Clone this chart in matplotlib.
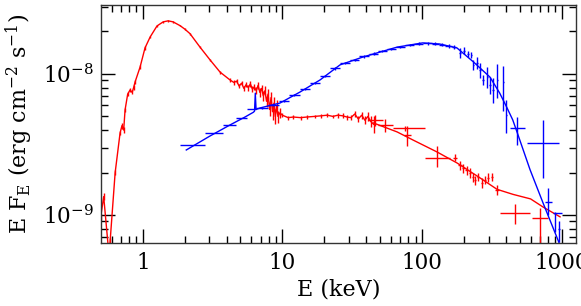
import matplotlib
matplotlib.use("Agg")
import matplotlib.pyplot as plt
from matplotlib.ticker import LogLocator, FuncFormatter, NullFormatter

plt.rcParams['font.family'] = ['DejaVu Serif']
plt.rcParams['mathtext.fontset'] = 'dejavuserif'

# red spectrum (data histogram), E in keV, E F_E in 1e-9 erg/cm2/s
red_E = [0.50, 0.525, 0.57, 0.578, 0.583, 0.634, 0.688, 0.71, 0.73, 0.747, 0.78, 0.811,
         0.84, 0.86, 0.881, 0.957, 1.038, 1.13, 1.265, 1.40, 1.52, 1.65, 1.85, 2.0, 2.18,
         2.57, 3.03, 3.58, 4.22, 4.5, 4.7, 4.9, 5.1, 5.3, 5.5, 5.7, 5.9, 6.1, 6.3, 6.5,
         6.7, 6.9, 7.1, 7.3, 7.5, 7.7, 7.9, 8.1, 8.3, 8.5, 8.7, 8.9, 9.1, 9.3, 9.6,
         10.0, 11.0, 12.0, 13.5, 15.0, 17.0, 19.0, 21.0, 23.0, 25.0, 27.0, 29.0, 31.0,
         33.0, 35.0, 37.0, 39.0, 41.0, 43.0, 45.0]
red_F = [0.97, 1.35, 0.55, 0.55, 0.64, 1.99, 3.82, 4.3, 4.0, 5.56, 7.2, 7.7,
         7.4, 8.0, 8.77, 11.2, 15.3, 18.3, 21.9, 23.4, 23.8, 23.4, 22.0, 20.8, 19.3,
         15.5, 12.6, 10.3, 9.06, 8.7, 8.9, 8.2, 8.6, 7.9, 8.4, 8.0, 8.5, 7.8, 8.1, 7.6,
         8.3, 7.4, 7.9, 7.0, 7.6, 6.4, 7.2, 5.6, 6.8, 5.4, 6.2, 5.0, 5.9, 5.0, 5.3,
         5.1, 4.9, 4.95, 4.9, 4.95, 5.0, 5.05, 5.1, 5.0, 5.1, 5.05, 4.95, 4.9,
         5.2, 4.8, 5.1, 4.7, 5.0, 4.6, 4.4]
red_err = [0.05, 0.08, 0.05, 0.05, 0.05, 0.08, 0.15, 0.2, 0.2, 0.2, 0.25, 0.25,
           0.25, 0.3, 0.3, 0.35, 0.4, 0.4, 0.4, 0.3, 0.3, 0.3, 0.3, 0.3, 0.3,
           0.3, 0.25, 0.25, 0.25, 0.3, 0.3, 0.3, 0.3, 0.35, 0.35, 0.4, 0.4, 0.4, 0.45, 0.45,
           0.5, 0.5, 0.5, 0.55, 0.55, 0.6, 0.6, 0.6, 0.7, 0.7, 0.7, 0.6, 0.6, 0.5, 0.4,
           0.15, 0.15, 0.15, 0.15, 0.15, 0.15, 0.15, 0.15, 0.15, 0.2, 0.2, 0.2, 0.2,
           0.25, 0.25, 0.3, 0.3, 0.35, 0.4, 0.6]

# red hard x-ray points
redx_E = [46.1, 54.4, 75.7, 78.2, 128, 173, 187, 197, 210, 221, 232, 240, 252, 269,
          283, 297, 318, 345, 464, 705]
redx_lo = [41.1, 48.5, 62.1, 74.0, 105, 168, 182, 192, 205, 216, 227, 235, 247, 263,
           277, 291, 311, 336, 364, 615]
redx_hi = [52.6, 62.1, 105, 83.0, 159, 178, 192, 202, 215, 226, 237, 245, 257, 275,
           289, 303, 325, 354, 595, 801]
redx_F = [4.72, 4.35, 4.14, 3.69, 2.54, 2.54, 2.26, 2.15, 2.08, 1.99, 1.86, 1.77, 1.86,
          1.69, 1.77, 1.83, 1.86, 1.50, 1.03, 0.953]
redx_dn = [4.3, 3.9, 3.95, 3.1, 2.18, 2.4, 2.1, 2.0, 1.93, 1.84, 1.72, 1.64, 1.74,
           1.56, 1.65, 1.70, 1.74, 1.38, 0.86, 0.3]
redx_up = [5.1, 4.8, 4.3, 4.3, 3.07, 2.7, 2.42, 2.3, 2.23, 2.14, 2.0, 1.9, 2.0,
           1.82, 1.9, 1.98, 2.0, 1.63, 1.20, 1.12]

# red model at high energies
redm_E = [45.0, 66.4, 86.3, 128, 178, 261, 345, 449, 600, 736, 975]
redm_F = [4.49, 3.88, 3.40, 2.80, 2.34, 1.83, 1.52, 1.40, 1.30, 1.14, 0.97]

# blue model
blue_E = [2.05, 3.03, 4.22, 5.4, 6.2, 6.32, 6.4, 6.48, 6.92, 9.62, 13.4, 18.6, 25.9,
          37.9, 66.4, 101, 134, 178, 233, 307, 360, 404, 447, 482, 594, 736, 942, 1200]
blue_F = [2.89, 3.63, 4.35, 4.95, 5.35, 5.45, 7.3, 5.6, 5.74, 6.22, 7.45, 9.06, 11.6,
          13.2, 15.5, 16.6, 16.3, 15.3, 12.2, 9.5, 7.33, 5.83, 4.72, 3.82, 2.1, 1.22,
          0.665, 0.36]

# blue data
blued_E = [2.26, 3.24, 4.19, 5.1, 6.02, 7.2, 8.6, 10.3, 12.2, 14.5, 17.2, 20.3, 24.0,
           28.0, 33.0, 38.5, 45.0, 52.0, 60.0, 70.0, 82.0, 95.0, 110, 125, 140, 155,
           170, 188, 200, 214, 226, 233, 248, 261, 274, 293, 307, 323, 345, 382, 401,
           482, 736, 800, 897, 960]
blued_lo = [1.85, 2.79, 3.76, 4.66, 5.59, 6.48, 7.9, 9.5, 11.2, 13.3, 15.8, 18.6, 22.0,
            26.0, 30.5, 35.5, 41.5, 48.5, 56.0, 65.0, 76.0, 88.0, 102, 118, 132, 147,
            165, 185, 197, 211, 223, 231, 245, 258, 271, 290, 304, 320, 342, 378, 398,
            429, 565, 762, 866, 950]
blued_hi = [2.79, 3.76, 4.66, 5.59, 6.48, 7.9, 9.5, 11.2, 13.3, 15.8, 18.6, 22.0, 26.0,
            30.5, 35.5, 41.5, 48.5, 56.0, 65.0, 76.0, 88.0, 102, 118, 132, 147, 165,
            175, 191, 203, 217, 229, 235, 251, 264, 277, 296, 310, 326, 348, 386, 404,
            548, 960, 855, 1002, 970]
blued_F = [3.13, 3.82, 4.35, 4.87, 5.65, 5.74, 6.0, 6.46, 7.08, 7.8, 8.65, 9.67, 10.96,
           11.9, 12.6, 13.3, 13.9, 14.5, 15.1, 15.6, 16.05, 16.4, 16.5, 16.4, 16.1, 15.8,
           15.5, 14.1, 14.6, 13.9, 13.6, 11.6, 12.0, 10.7, 9.06, 9.5, 8.36, 7.7, 9.06,
           8.77, 5.12, 4.14, 3.24, 1.24, 1.03, 0.80]
blued_dn = [3.13, 3.82, 4.35, 4.87, 5.65, 5.64, 5.9, 6.36, 6.95, 7.65, 8.5, 9.5, 10.75,
            11.7, 12.4, 13.0, 13.6, 14.2, 14.8, 15.3, 15.75, 16.0, 16.1, 16.0, 15.7, 15.3,
            15.0, 13.0, 13.8, 13.2, 12.9, 10.6, 10.9, 9.4, 8.3, 8.0, 7.2, 6.2, 6.8,
            5.5, 3.82, 3.13, 1.83, 1.0, 0.76, 0.64]
blued_up = [3.13, 3.82, 4.35, 4.87, 5.65, 5.84, 6.1, 6.56, 7.2, 7.95, 8.8, 9.85, 11.2,
            12.1, 12.8, 13.6, 14.2, 14.8, 15.4, 15.9, 16.35, 16.8, 16.9, 16.8, 16.5, 16.3,
            16.0, 15.2, 15.5, 14.6, 14.3, 12.6, 13.2, 12.0, 9.9, 11.2, 9.5, 9.3, 11.7,
            11.3, 6.54, 4.95, 4.72, 1.55, 1.05, 0.9]

sc = 1e-9
fig = plt.figure(figsize=(5.81, 3.06), dpi=100)
ax = fig.add_axes([0.174, 0.2075, 0.8175, 0.776])

lw = 1.0
ax.plot(red_E, [f * sc for f in red_F], color='red', lw=lw)
ax.errorbar(red_E, [f * sc for f in red_F], yerr=[e * sc for e in red_err],
            fmt='none', ecolor='red', elinewidth=lw)
ax.plot(redm_E, [f * sc for f in redm_F], color='red', lw=lw)
ax.errorbar(redx_E, [f * sc for f in redx_F],
            xerr=[[e - l for e, l in zip(redx_E, redx_lo)], [h - e for e, h in zip(redx_E, redx_hi)]],
            yerr=[[(f - d) * sc for f, d in zip(redx_F, redx_dn)], [(u - f) * sc for f, u in zip(redx_F, redx_up)]],
            fmt='none', ecolor='red', elinewidth=lw)

ax.plot(blue_E, [f * sc for f in blue_F], color='blue', lw=lw)
ax.errorbar(blued_E, [f * sc for f in blued_F],
            xerr=[[e - l for e, l in zip(blued_E, blued_lo)], [h - e for e, h in zip(blued_E, blued_hi)]],
            yerr=[[(f - d) * sc for f, d in zip(blued_F, blued_dn)], [(u - f) * sc for f, u in zip(blued_F, blued_up)]],
            fmt='none', ecolor='blue', elinewidth=lw)

ax.set_xscale('log')
ax.set_yscale('log')
ax.set_xlim(0.503, 1270)
ax.set_ylim(6.38e-10, 3.08e-8)

ax.xaxis.set_major_locator(LogLocator(base=10, numticks=10))
ax.xaxis.set_minor_locator(LogLocator(base=10, subs=range(2, 10), numticks=20))
ax.xaxis.set_major_formatter(FuncFormatter(lambda v, p: '%d' % round(v)))
ax.xaxis.set_minor_formatter(NullFormatter())
ax.yaxis.set_minor_formatter(NullFormatter())

ax.tick_params(which='both', direction='in', top=True, right=True, width=1.0, labelsize=15.5)
ax.tick_params(which='major', length=10)
ax.tick_params(which='minor', length=5)
ax.tick_params(axis='x', pad=7)
ax.tick_params(axis='y', pad=5)
for s in ax.spines.values():
    s.set_linewidth(1.0)
    s.set_color('#333333')

ax.set_xlabel('E (keV)', fontsize=16, labelpad=3)
ax.set_ylabel(r'E F$_\mathrm{E}$ (erg cm$^{-2}$ s$^{-1}$)', fontsize=16, labelpad=6)

fig.savefig('out.png', dpi=100)
